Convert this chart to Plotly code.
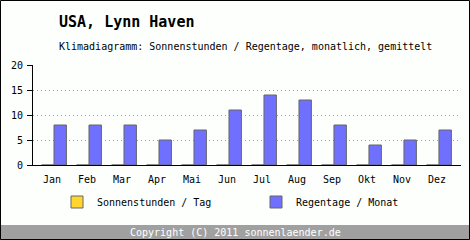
import plotly.graph_objects as go

months = ["Jan", "Feb", "Mar", "Apr", "Mai", "Jun", "Jul", "Aug", "Sep", "Okt", "Nov", "Dez"]
sonnenstunden = [0, 0, 0, 0, 0, 0, 0, 0, 0, 0, 0, 0]
regentage = [8, 8, 8, 5, 7, 11, 14, 13, 8, 4, 5, 7]
y_ticks = [0, 5, 10, 15, 20]

W, H = 470, 240
L, R, T, B = 33, 9, 65, 75
pw, ph = W - L - R, H - T - B

def px(x):
    return (x - L) / pw

def py(y):
    return (H - B - y) / ph

FONT = "DejaVu Sans Mono"

fig = go.Figure()
fig.add_trace(go.Bar(x=list(range(12)), y=sonnenstunden, name="Sonnenstunden / Tag", legend="legend",
                     marker=dict(color="#FFD530", line=dict(color="#666666", width=1))))
fig.add_trace(go.Bar(x=list(range(12)), y=regentage, name="Regentage / Monat", legend="legend2",
                     marker=dict(color="#7070FF", line=dict(color="#666666", width=1))))

leg = dict(orientation="h", yanchor="middle", xanchor="left",
           font=dict(family=FONT, size=10, color="#000000"), bgcolor="rgba(0,0,0,0)",
           itemclick=False, itemwidth=30, borderwidth=0)

fig.update_layout(
    width=W, height=H,
    margin=dict(l=L, r=R, t=T, b=B),
    paper_bgcolor="#FCFFFC", plot_bgcolor="#FCFFFC",
    barmode="group", bargap=0.29, bargroupgap=0,
    font=dict(family=FONT, size=10, color="#000000"),
    showlegend=True,
    legend=dict(leg, x=px(57), y=py(202)),
    legend2=dict(leg, x=px(256), y=py(202)),
    xaxis=dict(range=[-0.6, 11.63], tickvals=list(range(12)), ticktext=months,
               showline=True, linecolor="#000000", linewidth=1,
               ticks="", showgrid=False, tickfont=dict(family=FONT, size=10),
               ticklabelshift=-2, ticklabelstandoff=5),
    yaxis=dict(range=[0, 20], tickvals=y_ticks, showline=True, linecolor="#000000", linewidth=1,
               ticks="outside", ticklen=5, tickcolor="#000000",
               showgrid=True, gridcolor="#A0A0A0", griddash="1px,3px", gridwidth=1,
               zeroline=False, tickfont=dict(family=FONT, size=10), ticklabelstandoff=2),
)

shapes = [
    dict(type="rect", xref="paper", yref="paper", x0=px(0), x1=px(W), y0=py(225), y1=py(240),
         fillcolor="#A0A0A0", line=dict(width=0), layer="below"),
    dict(type="rect", xref="paper", yref="paper", x0=px(0.5), x1=px(W - 0.5), y0=py(0.5), y1=py(H - 0.5),
         fillcolor="rgba(0,0,0,0)", line=dict(color="#000000", width=1)),
]
fig.update_layout(shapes=shapes)

fig.add_annotation(text="<b>USA, Lynn Haven</b>", xref="paper", yref="paper", x=px(57), y=py(22),
                   xanchor="left", yanchor="middle", showarrow=False,
                   font=dict(family=FONT, size=15, color="#000000"))
fig.add_annotation(text="Klimadiagramm: Sonnenstunden / Regentage, monatlich, gemittelt",
                   xref="paper", yref="paper", x=px(57), y=py(46),
                   xanchor="left", yanchor="middle", showarrow=False,
                   font=dict(family=FONT, size=10, color="#000000"))
fig.add_annotation(text="Copyright (C) 2011 sonnenlaender.de", xref="paper", yref="paper",
                   x=px(W / 2), y=py(232.5), xanchor="center", yanchor="middle", showarrow=False,
                   font=dict(family=FONT, size=10, color="#FFFFFF"))

fig.write_html("out.html")
